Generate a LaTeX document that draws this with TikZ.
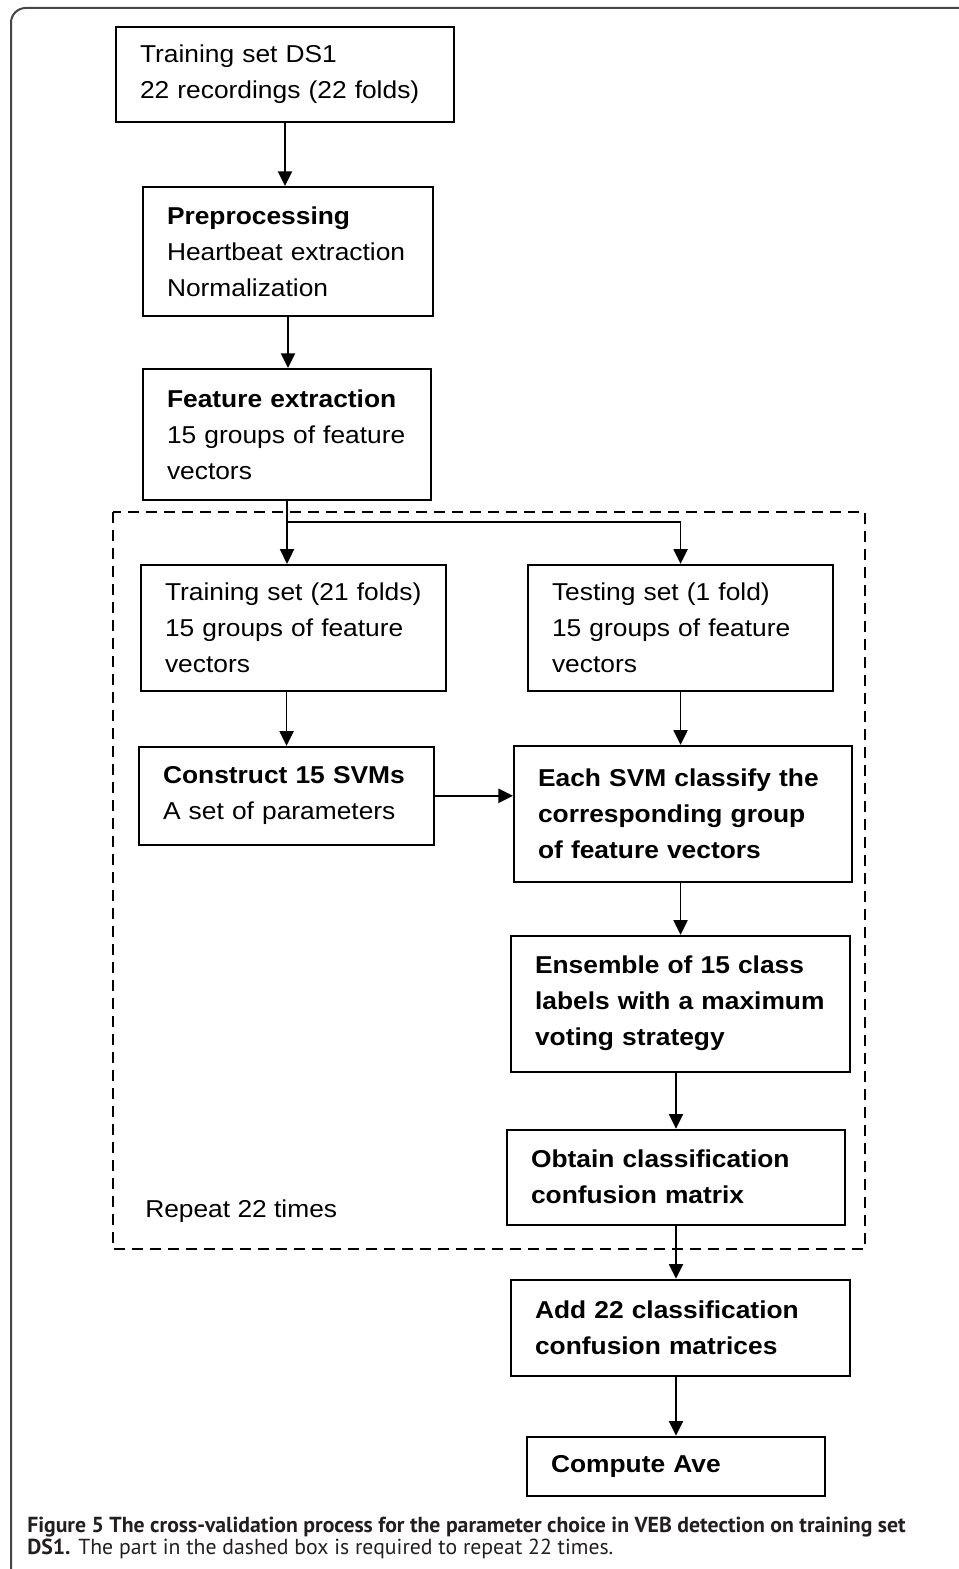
\documentclass[tikz,border=0pt]{standalone}
\usepackage{fontspec}
\setmainfont{Liberation Sans}[FakeStretch=1.08]
\newfontfamily\capfont{PT Sans}
\usepackage{tikz}
\usetikzlibrary{arrows.meta}
\usetikzlibrary{positioning}

\definecolor{capgray}{RGB}{35,31,32}
\definecolor{framegray}{RGB}{70,70,70}

\begin{document}
\begin{tikzpicture}[x=0.75pt, y=-0.75pt]

    % Styles
    \tikzstyle{proc} = [draw, line width=1.4pt, align=left, inner xsep=18pt, inner ysep=2pt,
                        font=\fontsize{18.3}{27}\selectfont]
    \tikzstyle{plain} = [draw=none, fill=none, inner sep=0pt, font=\fontsize{18.3}{27}\selectfont]
    \tikzstyle{arr} = [line width=1.4pt, -{Triangle[length=11pt, width=10.5pt]}]
    \tikzstyle{repeatbox} = [line width=1.1pt, dash pattern=on 8.5pt off 5pt]
    \tikzstyle{frame} = [line width=1.5pt, color=framegray, rounded corners=11pt]
    \tikzstyle{caption} = [draw=none, inner sep=0pt, align=left, text=capgray,
                           font=\capfont\fontsize{16.3}{16.5}\selectfont]

    \useasboundingbox (0,0) rectangle (958,1569);

    % Outer frame
    \draw[frame] (962,8) -- (11,8) -- (11,1573);

    % Define nodes
    \node[proc, text width=217.5pt, minimum height=71.25pt] (ds) at (285,74.5)
        {Training set DS1\\22 recordings (22 folds)};
    \node[proc, text width=181.5pt, minimum height=96.75pt, below=47.3pt of ds, xshift=2.25pt] (pre)
        {\textbf{Preprocessing}\\Heartbeat extraction\\Normalization};
    \node[proc, text width=180pt, minimum height=98.25pt, below=38.3pt of pre, xshift=-0.75pt] (feat)
        {\textbf{Feature extraction}\\15 groups of feature\\vectors};
    \node[proc, text width=192.75pt, minimum height=94.5pt, below=47.3pt of feat, xshift=4.9pt] (train)
        {Training set (21 folds)\\15 groups of feature\\vectors};
    \node[proc, text width=192.75pt, minimum height=94.5pt, right=60.1pt of train] (test)
        {Testing set (1 fold)\\15 groups of feature\\vectors};
    \node[proc, text width=185.25pt, minimum height=73.5pt, below=40.6pt of train, xshift=-5.25pt] (svm)
        {\textbf{Construct 15 SVMs}\\A set of parameters};
    \node[proc, text width=217.5pt, minimum height=102pt, below=39.8pt of test, xshift=1.9pt] (cls)
        {\textbf{Each SVM classify the}\\\textbf{corresponding group}\\\textbf{of feature vectors}};
    \node[proc, text width=218.25pt, minimum height=102pt, below=39.1pt of cls, xshift=-1.9pt] (ens)
        {\textbf{Ensemble of 15 class}\\\textbf{labels with a maximum}\\\textbf{voting strategy}};
    \node[proc, text width=217.5pt, minimum height=71.25pt, below=42.1pt of ens, xshift=-3.4pt] (conf)
        {\textbf{Obtain classification}\\\textbf{confusion matrix}};
    \node[proc, text width=218.25pt, minimum height=72pt, below=39.8pt of conf, xshift=3.4pt] (add)
        {\textbf{Add 22 classification}\\\textbf{confusion matrices}};
    \node[proc, text width=187.5pt, minimum height=44.25pt, below=44.3pt of add, xshift=-3.4pt] (ave)
        {\textbf{Compute Ave}};
    \node[plain, anchor=base west] (rep) at (145,1217) {Repeat 22 times};

    \coordinate[below=16pt of feat.south] (split);

    % Connect nodes
    \draw[arr] (ds.south) -- (ds.south |- pre.north);
    \draw[arr] (pre.south) -- (pre.south |- feat.north);
    \draw[arr] (feat.south) -- (feat.south |- train.north);
    \draw[arr] (split) -| (test.north);
    \draw[arr] (train.south -| svm.north) -- (svm.north);
    \draw[arr] (test.south) -- (test.south |- cls.north);
    \draw[arr] (svm.east) -- (svm.east -| cls.west);
    \draw[arr] (cls.south -| ens.north) -- (ens.north);
    \draw[arr] (ens.south -| conf.north) -- (conf.north);
    \draw[arr] (conf.south) -- (conf.south |- add.north);
    \draw[arr] (add.south -| ave.north) -- (ave.north);

    % Repeated part
    \draw[repeatbox] (113,512) rectangle (865,1249);

    % Caption
    \node[caption, anchor=north west] (cap) at (27,1517)
        {\textbf{Figure 5 The cross-validation process for the parameter choice in VEB detection on training set}\\
         \textbf{DS1.} The part in the dashed box is required to repeat 22 times.};

\end{tikzpicture}
\end{document}
